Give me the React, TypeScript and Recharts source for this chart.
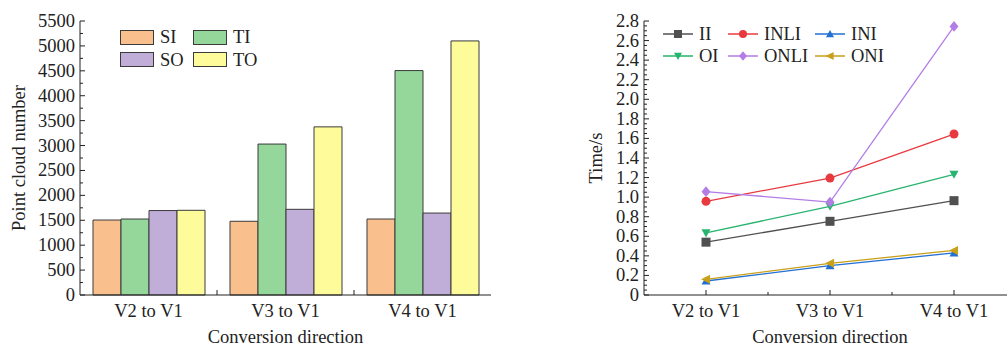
import React from "react";
import { Bar, BarChart, Line, LineChart, XAxis, YAxis } from "recharts";

const directions = ["V2 to V1", "V3 to V1", "V4 to V1"];

// point cloud numbers
const siCounts = [1505, 1480, 1525];
const tiCounts = [1525, 3030, 4505];
const soCounts = [1695, 1720, 1645];
const toCounts = [1700, 3375, 5100];

// times in seconds
const iiTimes = [0.54, 0.753, 0.964];
const inliTimes = [0.957, 1.195, 1.645];
const iniTimes = [0.143, 0.3, 0.43];
const oiTimes = [0.634, 0.906, 1.233];
const onliTimes = [1.056, 0.95, 2.745];
const oniTimes = [0.16, 0.324, 0.456];

const FONT = "'Liberation Serif', 'Times New Roman', serif";
const INK = "#222";
const FS = 18.5;

const barRows = directions.map((d, i) => ({
  dir: d,
  SI: siCounts[i],
  TI: tiCounts[i],
  SO: soCounts[i],
  TO: toCounts[i],
}));

const lineRows = directions.map((d, i) => ({
  dir: d,
  II: iiTimes[i],
  INLI: inliTimes[i],
  INI: iniTimes[i],
  OI: oiTimes[i],
  ONLI: onliTimes[i],
  ONI: oniTimes[i],
}));

// major ticks every 500 / 0.2, minor in between
const countTicks: number[] = [];
for (let v = 0; v <= 5500; v += 250) countTicks.push(v);
const timeTicks: number[] = [];
for (let i = 0; i <= 56; i++) timeTicks.push(Math.round(i * 5) / 100);

const barSeries = [
  { key: "SI", color: "#f9c08e" },
  { key: "TI", color: "#95d79b" },
  { key: "SO", color: "#c1aed8" },
  { key: "TO", color: "#fdfb9a" },
];

type Shape = "square" | "circle" | "up" | "down" | "diamond" | "left";
const lineSeries: { key: string; color: string; shape: Shape }[] = [
  { key: "II", color: "#505050", shape: "square" },
  { key: "INLI", color: "#e8393f", shape: "circle" },
  { key: "INI", color: "#2270d4", shape: "up" },
  { key: "OI", color: "#27b46e", shape: "down" },
  { key: "ONLI", color: "#b37de6", shape: "diamond" },
  { key: "ONI", color: "#c9a01a", shape: "left" },
];

function Marker({ cx, cy, shape, color, r = 4.5 }: { cx: number; cy: number; shape: Shape; color: string; r?: number }) {
  if (cx == null || cy == null) return null;
  switch (shape) {
    case "square":
      return <rect x={cx - r} y={cy - r} width={r * 2} height={r * 2} fill={color} />;
    case "circle":
      return <circle cx={cx} cy={cy} r={r} fill={color} />;
    case "up":
      return <polygon points={`${cx},${cy - r} ${cx + r},${cy + r * 0.8} ${cx - r},${cy + r * 0.8}`} fill={color} />;
    case "down":
      return <polygon points={`${cx},${cy + r} ${cx + r},${cy - r * 0.8} ${cx - r},${cy - r * 0.8}`} fill={color} />;
    case "diamond":
      return <polygon points={`${cx},${cy - r * 1.2} ${cx + r},${cy} ${cx},${cy + r * 1.2} ${cx - r},${cy}`} fill={color} />;
    case "left":
      return <polygon points={`${cx - r * 1.1},${cy} ${cx + r * 0.9},${cy - r} ${cx + r * 0.9},${cy + r}`} fill={color} />;
  }
  return null;
}

function CountTick(props: any) {
  const { x, y, payload } = props;
  const v = payload.value as number;
  const major = v % 500 === 0;
  const ax = x + 5;
  return (
    <g>
      <line x1={ax} x2={ax + (major ? 5 : 3)} y1={y} y2={y} stroke={INK} strokeWidth={1} />
      {major && (
        <text x={x} y={y} dy={6} textAnchor="end" fontFamily={FONT} fontSize={FS} fill={INK}>
          {v}
        </text>
      )}
    </g>
  );
}

function TimeTick(props: any) {
  const { x, y, payload } = props;
  const v = payload.value as number;
  const major = Math.abs(Math.round(v * 5) - v * 5) < 1e-6;
  const ax = x + 5;
  return (
    <g>
      <line x1={ax} x2={ax + (major ? 5 : 3)} y1={y} y2={y} stroke={INK} strokeWidth={1} />
      {major && (
        <text x={x} y={y} dy={6} textAnchor="end" fontFamily={FONT} fontSize={FS} fill={INK}>
          {v === 0 ? "0" : v.toFixed(1)}
        </text>
      )}
    </g>
  );
}

function CategoryTick(props: any) {
  const { x, y, payload, index, centerTick, half } = props;
  return (
    <g>
      {centerTick && <line x1={x} x2={x} y1={y} y2={y - 5} stroke={INK} />}
      {index < 2 && <line x1={x + half} x2={x + half} y1={y} y2={y - (centerTick ? 3 : 5)} stroke={INK} />}
      <text x={x} y={y} dy={22} textAnchor="middle" fontFamily={FONT} fontSize={FS} fill={INK}>
        {payload.value}
      </text>
    </g>
  );
}

function BarLegend() {
  return (
    <div style={{ display: "flex", flexWrap: "wrap", width: 150, fontFamily: FONT, fontSize: FS, color: INK }}>
      {barSeries.map((s) => (
        <div key={s.key} style={{ width: 73, height: 22.5, display: "flex", alignItems: "center" }}>
          <span
            style={{
              display: "inline-block",
              width: 32,
              height: 13,
              background: s.color,
              border: "1px solid #3a3a3a",
              marginRight: 6,
            }}
          />
          <span style={{ lineHeight: 1 }}>{s.key}</span>
        </div>
      ))}
    </div>
  );
}

const lineLegendWidths = [65, 87, 80];

function LineLegend() {
  return (
    <div style={{ display: "flex", flexWrap: "wrap", width: 240, fontFamily: FONT, fontSize: FS, color: INK }}>
      {lineSeries.map((s, i) => (
        <div key={s.key} style={{ width: lineLegendWidths[i % 3], height: 22, display: "flex", alignItems: "center" }}>
          <svg width={30} height={14} style={{ marginRight: 6 }}>
            <line x1={0} x2={30} y1={7} y2={7} stroke={s.color} strokeWidth={1.5} />
            <Marker cx={15} cy={7} shape={s.shape} color={s.color} r={4} />
          </svg>
          <span style={{ lineHeight: 1 }}>{s.key}</span>
        </div>
      ))}
    </div>
  );
}

export default function App() {
  return (
    <div style={{ position: "absolute", left: 0, top: 0, width: 1007, height: 349, overflow: "hidden", background: "#fff" }}>
      <div style={{ position: "absolute", left: 0, top: 0 }}>
        <BarChart
          width={500}
          height={349}
          data={barRows}
          margin={{ top: 21, right: 9, left: 0, bottom: 0 }}
          barCategoryGap="9.5%"
          barGap={0}
        >
          <XAxis
            dataKey="dir"
            height={54}
            stroke={INK}
            tickLine={false}
            tickSize={0}
            tickMargin={0}
            interval={0}
            tick={<CategoryTick half={68.5} />}
            label={{ value: "Conversion direction", position: "insideBottom", offset: 6, fontFamily: FONT, fontSize: FS, fill: INK }}
          />
          <YAxis
            width={80}
            domain={[0, 5500]}
            ticks={countTicks}
            interval={0}
            stroke={INK}
            tickLine={false}
            tickSize={0}
            tickMargin={5}
            tick={<CountTick />}
            label={{
              value: "Point cloud number",
              angle: -90,
              position: "insideLeft",
              offset: 18,
              fontFamily: FONT,
              fontSize: FS,
              fill: INK,
              style: { textAnchor: "middle" },
            }}
          />
          {barSeries.map((s) => (
            <Bar key={s.key} dataKey={s.key} fill={s.color} stroke="#3a3a3a" strokeWidth={1} isAnimationActive={false} />
          ))}
        </BarChart>
      </div>
      <div style={{ position: "absolute", left: 120, top: 26 }}>
        <BarLegend />
      </div>
      <div style={{ position: "absolute", left: 500, top: 0 }}>
        <LineChart width={516} height={349} data={lineRows} margin={{ top: 21, right: 0, left: 0, bottom: 0 }}>
          <XAxis
            dataKey="dir"
            height={54}
            stroke={INK}
            tickLine={false}
            tickSize={0}
            tickMargin={0}
            interval={0}
            padding={{ left: 62, right: 62 }}
            tick={<CategoryTick centerTick half={62} />}
            label={{ value: "Conversion direction", position: "insideBottom", offset: 6, fontFamily: FONT, fontSize: FS, fill: INK }}
          />
          <YAxis
            width={144}
            domain={[0, 2.8]}
            ticks={timeTicks}
            interval={0}
            stroke={INK}
            tickLine={false}
            tickSize={0}
            tickMargin={5}
            tick={<TimeTick />}
            label={{
              value: "Time/s",
              angle: -90,
              position: "insideLeft",
              offset: 95,
              fontFamily: FONT,
              fontSize: FS,
              fill: INK,
              style: { textAnchor: "middle" },
            }}
          />
          {lineSeries.map((s) => (
            <Line
              key={s.key}
              dataKey={s.key}
              stroke={s.color}
              strokeWidth={1.3}
              isAnimationActive={false}
              dot={(p: any) => <Marker key={`${s.key}-${p.index}`} cx={p.cx} cy={p.cy} shape={s.shape} color={s.color} />}
              activeDot={false}
            />
          ))}
        </LineChart>
      </div>
      <div style={{ position: "absolute", left: 663, top: 23 }}>
        <LineLegend />
      </div>
    </div>
  );
}
